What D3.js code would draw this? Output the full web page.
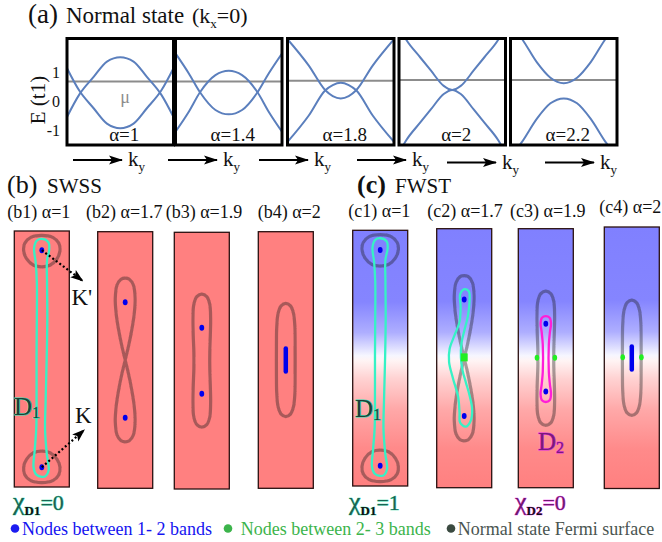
<!DOCTYPE html>
<html>
<head>
<meta charset="utf-8">
<style>
  body { margin: 0; background: #fff; }
  svg text { font-family: "Liberation Serif", "DejaVu Serif", serif; }
</style>
</head>
<body>
<svg width="662" height="542" font-family="Liberation Serif, DejaVu Serif, serif"></svg>
<script src="https://cdnjs.cloudflare.com/ajax/libs/d3/7.8.5/d3.min.js"></script>
<script>
// ---------- data: (a) normal-state bands at kx=0 ----------
var alphaA = [1, 1.4, 1.8, 2, 2.2];
var muA = [0.67, 0.67, 0.70, 0.72, 0.72];
var eTicks = [1, 0, -1];
var bandKy = [
  [-1, -0.77, -0.5, -0.25, 0, 0.25, 0.5, 0.77, 1],
  [-1, -0.75, -0.54, -0.25, 0, 0.25, 0.54, 0.75, 1],
  [-1, -0.6, -0.29, -0.15, 0, 0.15, 0.29, 0.6, 1],
  [-1, -0.87, -0.6, -0.41, -0.16, 0, 0.16, 0.41, 0.6, 0.87, 1],
  [-1, -0.78, -0.5, -0.25, 0, 0.25, 0.5, 0.78, 1]
];
var bandUp = [
  [1.13, 0.36, -0.25, -0.78, -0.94, -0.78, -0.25, 0.36, 1.13],
  [1.64, 0.95, 0.3, -0.31, -0.46, -0.31, 0.3, 0.95, 1.64],
  [2.13, 1.22, 0.37, 0.17, 0.09, 0.17, 0.37, 1.22, 2.13],
  [2.55, 2.13, 1.5, 1.07, 0.52, 0.38, 0.52, 1.07, 1.5, 2.13, 2.55],
  [2.65, 2.13, 1.32, 0.8, 0.61, 0.8, 1.32, 2.13, 2.65]
];
var bandDown = [
  [-0.55, 0.22, 0.83, 1.36, 1.51, 1.36, 0.83, 0.22, -0.55],
  [-1.06, -0.37, 0.3, 0.89, 1.04, 0.89, 0.3, -0.37, -1.06],
  [-1.41, -0.5, 0.37, 0.55, 0.63, 0.55, 0.37, -0.5, -1.41],
  [-1.79, -1.37, -0.74, -0.31, 0.24, 0.38, 0.24, -0.31, -0.74, -1.37, -1.79],
  [-1.95, -1.4, -0.6, -0.08, 0.09, -0.08, -0.6, -1.4, -1.95]
];

// ---------- data: (b)/(c) k-space maps, (kx, ky) ----------
var panelNames = ["(b1) α=1", "(b2) α=1.7", "(b3) α=1.9", "(b4) α=2",
                  "(c1) α=1", "(c2) α=1.7", "(c3) α=1.9", "(c4) α=2"];
var ringTop = [[0,4.51],[0.4,4.44],[0.62,4.22],[0.66,3.95],[0.55,3.65],[0.3,3.42],[0,3.36],
               [-0.3,3.42],[-0.55,3.65],[-0.66,3.95],[-0.62,4.22],[-0.4,4.44]];
var ringBottom = [[0,-4.51],[0.4,-4.44],[0.62,-4.22],[0.66,-3.95],[0.55,-3.65],[0.3,-3.42],[0,-3.36],
                  [-0.3,-3.42],[-0.55,-3.65],[-0.66,-3.95],[-0.62,-4.22],[-0.4,-4.44]];
var figureEight = [[0,0],[0.12,0.5],[0.24,1.1],[0.33,1.7],[0.36,2.25],[0.3,2.72],[0.15,2.94],[0,2.98],
                   [-0.15,2.94],[-0.3,2.72],[-0.36,2.25],[-0.33,1.7],[-0.24,1.1],[-0.12,0.5],
                   [0,0],[0.12,-0.5],[0.24,-1.1],[0.33,-1.7],[0.36,-2.25],[0.3,-2.72],[0.15,-2.94],[0,-2.98],
                   [-0.15,-2.94],[-0.3,-2.72],[-0.36,-2.25],[-0.33,-1.7],[-0.24,-1.1],[-0.12,-0.5]];
var peanut = [[0,2.42],[0.18,2.33],[0.29,2.05],[0.32,1.55],[0.31,0.9],[0.29,0.3],[0.29,-0.3],[0.31,-0.9],
              [0.32,-1.55],[0.29,-2.05],[0.18,-2.33],[0,-2.42],[-0.18,-2.33],[-0.29,-2.05],[-0.32,-1.55],
              [-0.31,-0.9],[-0.29,-0.3],[-0.29,0.3],[-0.31,0.9],[-0.32,1.55],[-0.29,2.05],[-0.18,2.33]];
var oval = [[0,2.06],[0.17,1.97],[0.28,1.7],[0.33,1.2],[0.34,0.5],[0.34,-0.5],[0.33,-1.2],[0.28,-1.7],
            [0.17,-1.97],[0,-2.06],[-0.17,-1.97],[-0.28,-1.7],[-0.33,-1.2],[-0.34,-0.5],[-0.34,0.5],
            [-0.33,1.2],[-0.28,1.7],[-0.17,1.97]];
var fermiByPanel = [[ringTop, ringBottom], [figureEight], [peanut], [oval],
                    [ringTop, ringBottom], [figureEight], [peanut], [oval]];

var loopD1 = [[0,4.38],[0.24,4.26],[0.27,4.0],[0.19,3.6],[0.19,2.8],[0.2,1.5],[0.18,0.1],[0.14,-1.5],
              [0.12,-2.6],[0.18,-3.45],[0.25,-4.05],[0.14,-4.27],[0,-4.3],[-0.2,-4.22],[-0.3,-3.95],
              [-0.26,-3.35],[-0.2,-2.5],[-0.19,-1.2],[-0.19,0.1],[-0.18,1.5],[-0.18,2.8],[-0.22,3.5],
              [-0.28,4.05],[-0.18,4.32]];
var loopS = [[0.01,2.49],[0.17,2.41],[0.19,1.99],[0.13,1.5],[0.01,1.02],[-0.1,0.53],[-0.12,0.04],
             [-0.06,-0.44],[0.06,-0.87],[0.2,-1.36],[0.29,-1.84],[0.23,-2.27],[0.05,-2.47],[-0.15,-2.32],
             [-0.17,-1.96],[-0.22,-1.4],[-0.41,-0.72],[-0.55,-0.14],[-0.53,0.34],[-0.35,0.83],
             [-0.17,1.31],[-0.13,1.87],[-0.15,2.29]];
var loopD2 = [[0,1.52],[0.14,1.46],[0.19,1.25],[0.15,0.95],[0.11,0.5],[0.11,-0.5],[0.15,-0.95],[0.19,-1.3],
              [0.14,-1.52],[0,-1.58],[-0.14,-1.52],[-0.19,-1.3],[-0.15,-0.95],[-0.11,-0.5],[-0.11,0.5],
              [-0.15,0.95],[-0.19,1.25],[-0.14,1.46]];
var cyanLoops = [[0, loopD1], [4, loopD1], [5, loopS]];
var magentaLoops = [[6, loopD2]];

// [panel, kx, ky]
var nodes12 = [[0,0,3.97],[0,0,-3.95],[1,0,2.1],[1,0,-2.1],[2,0,1.2],[2,0,-1.2],
               [4,0,3.95],[4,0,-3.93],[5,0,2.12],[5,0,-2.08],[6,0,1.24],[6,0,-1.2]];
// [panel, kx, ky from, ky to]
var nodeLines12 = [[3,0,0.42,-0.42],[7,0,0.4,-0.42]];
var nodes23 = [[6,-0.32,0.02],[6,0.33,0.02],[7,-0.33,0.02],[7,0.35,0.02]];
var nodes23Square = [[5,0,0.03]];
// K', K markers: [panel, from kx, from ky, to kx, to ky]
var valleyArrows = [[0,0,3.97,1.46,2.87],[0,0,-3.95,1.52,-2.61]];

// ---------- layout ----------
var svg = d3.select("svg");
var defs = svg.append("defs");
var boxX = [67, 175.5, 287.5, 399, 510.5], boxW = 106.5, boxTop = 38.5, boxBot = 145;
var yE = d3.scaleLinear().domain([-1, 1]).range([130, 72]);
var arrowX = [73, 168, 259, 357, 447, 545], arrowY = [160, 160, 160, 160, 162.5, 162.5];
var panelX = [14.3, 97.7, 174.3, 258.3, 352.7, 436.7, 518.3, 604.3];
var panelY = [231, 231.7, 232.3, 231.7, 230.3, 228.7, 228.7, 227];
var panelH = [256, 256.6, 256.7, 256.6, 255.7, 259, 259, 261.5];
var panelW = 55, kyMax = 4.67;
var labelPos = [[7.3,218],[86,218],[165.7,218],[257.7,218],[348.3,216.7],[427.3,216.7],[510,217],[599.3,212.7]];

defs.append("filter").attr("id", "soft").attr("x", "-20%").attr("y", "-20%").attr("width", "140%").attr("height", "140%")
  .append("feGaussianBlur").attr("stdDeviation", 0.7);

var grad = defs.append("linearGradient").attr("id", "fwst").attr("x1", 0).attr("y1", 0).attr("x2", 0).attr("y2", 1);
[[0, "#8080ff"], [0.28, "#8585ff"], [0.4, "#aeaeff"], [0.49, "#f6f6ff"], [0.51, "#fff4f4"],
 [0.58, "#ffd2d2"], [0.7, "#ffa8a8"], [0.85, "#ff8a8a"], [1, "#ff8080"]].forEach(function(s) {
  grad.append("stop").attr("offset", s[0]).attr("stop-color", s[1]);
});

defs.append("marker").attr("id", "headBig").attr("viewBox", "0 -5 14 10")
  .attr("refX", 13).attr("refY", 0).attr("markerWidth", 14).attr("markerHeight", 10)
  .attr("markerUnits", "userSpaceOnUse").attr("orient", "auto")
  .append("path").attr("d", "M0,-4.5L14,0L0,4.5L3,0Z").attr("fill", "#000");
defs.append("marker").attr("id", "headDot").attr("viewBox", "0 -5 14 10")
  .attr("refX", 12).attr("refY", 0).attr("markerWidth", 13).attr("markerHeight", 10)
  .attr("markerUnits", "userSpaceOnUse").attr("orient", "auto")
  .append("path").attr("d", "M0,-5L14,0L0,5L3,0Z").attr("fill", "#000");

// ---------- (a) ----------
var ta = svg.append("text").attr("x", 28).attr("y", 23).attr("fill", "#111");
ta.append("tspan").attr("font-size", 27).text("(a)");
ta.append("tspan").attr("x", 66).attr("font-size", 23).text("Normal state");
ta.append("tspan").attr("x", 192).attr("font-size", 22).text("(k");
ta.append("tspan").attr("font-size", 13).attr("dy", 5).text("x");
ta.append("tspan").attr("font-size", 22).attr("dy", -5).text("=0)");

svg.append("text").attr("transform", "translate(45,100) rotate(-90)")
  .attr("text-anchor", "middle").attr("font-size", 21).attr("fill", "#111").text("E (t1)");
svg.selectAll("text.etick").data(eTicks).join("text").attr("class", "etick")
  .attr("x", 60).attr("y", function(d) { return yE(d); }).attr("dy", "0.35em")
  .attr("text-anchor", "end").attr("font-size", 16).attr("fill", "#111").text(function(d) { return d; });

alphaA.forEach(function(a, i) {
  var x = d3.scaleLinear().domain([-1, 1]).range([boxX[i], boxX[i] + boxW]);
  defs.append("clipPath").attr("id", "clipA" + i).append("rect")
    .attr("x", boxX[i]).attr("y", boxTop).attr("width", boxW).attr("height", boxBot - boxTop);
  var g = svg.append("g").attr("clip-path", "url(#clipA" + i + ")");
  g.append("line").attr("x1", x(-1)).attr("x2", x(1)).attr("y1", yE(muA[i])).attr("y2", yE(muA[i]))
    .attr("stroke", "#8c8c8c").attr("stroke-width", 2);
  var line = d3.line().curve(d3.curveMonotoneX)
    .x(function(d) { return x(d[0]); }).y(function(d) { return yE(d[1]); });
  [bandUp[i], bandDown[i]].forEach(function(b) {
    g.append("path").attr("d", line(bandKy[i].map(function(k, j) { return [k, b[j]]; })))
      .attr("fill", "none").attr("stroke", "#5b7fbd").attr("stroke-width", 2);
  });
  svg.append("rect").attr("x", boxX[i]).attr("y", boxTop).attr("width", boxW).attr("height", boxBot - boxTop)
    .attr("fill", "none").attr("stroke", "#000").attr("stroke-width", 3);
  svg.append("text").attr("x", x(0) + 4).attr("y", 141).attr("text-anchor", "middle")
    .attr("font-size", 19).attr("fill", "#111").text("α=" + a);
});
svg.append("text").attr("x", 125).attr("y", 103).attr("text-anchor", "middle")
  .attr("font-size", 18).attr("fill", "#8c8c8c").text("μ");

arrowX.forEach(function(ax, i) {
  svg.append("line").attr("x1", ax).attr("x2", ax + 49).attr("y1", arrowY[i]).attr("y2", arrowY[i])
    .attr("stroke", "#000").attr("stroke-width", 2).attr("marker-end", "url(#headBig)");
  var t = svg.append("text").attr("x", ax + 55).attr("y", arrowY[i] + 6).attr("fill", "#111");
  t.append("tspan").attr("font-size", 21).text("k");
  t.append("tspan").attr("font-size", 13).attr("dy", 5).text("y");
});

// ---------- (b) and (c) ----------
var tb = svg.append("text").attr("x", 7).attr("y", 193).attr("fill", "#111");
tb.append("tspan").attr("font-size", 26).text("(b)");
tb.append("tspan").attr("x", 47).attr("font-size", 21).text("SWSS");
var tc = svg.append("text").attr("x", 357).attr("y", 193).attr("fill", "#111");
tc.append("tspan").attr("font-size", 26).attr("font-weight", "bold").text("(c)");
tc.append("tspan").attr("x", 395).attr("font-size", 21).text("FWST");

var sxs = [], sys = [];
panelNames.forEach(function(name, i) {
  var sx = d3.scaleLinear().domain([-1, 1]).range([panelX[i], panelX[i] + panelW]);
  var sy = d3.scaleLinear().domain([-kyMax, kyMax]).range([panelY[i] + panelH[i], panelY[i]]);
  sxs.push(sx); sys.push(sy);
  svg.append("text").attr("x", labelPos[i][0]).attr("y", labelPos[i][1])
    .attr("font-size", 18).attr("fill", "#111").text(name);
  svg.append("rect").attr("x", panelX[i]).attr("y", panelY[i]).attr("width", panelW).attr("height", panelH[i])
    .attr("fill", i < 4 ? "#ff8080" : "url(#fwst)").attr("stroke", "#2a1010").attr("stroke-width", 1.3);
  var line = d3.line().curve(d3.curveCatmullRomClosed)
    .x(function(d) { return sx(d[0]); }).y(function(d) { return sy(d[1]); });
  fermiByPanel[i].forEach(function(c) {
    svg.append("path").attr("d", line(c)).attr("fill", "none")
      .attr("stroke", "#1c1c1c").attr("stroke-opacity", 0.38).attr("stroke-width", 3.2)
      .attr("filter", "url(#soft)");
  });
});

function kLine(i) {
  return d3.line().curve(d3.curveCatmullRomClosed)
    .x(function(d) { return sxs[i](d[0]); }).y(function(d) { return sys[i](d[1]); });
}
cyanLoops.forEach(function(l) {
  svg.append("path").attr("d", kLine(l[0])(l[1])).attr("fill", "none")
    .attr("stroke", "#36f2c6").attr("stroke-width", 2.3);
});
magentaLoops.forEach(function(l) {
  svg.append("path").attr("d", kLine(l[0])(l[1])).attr("fill", "none")
    .attr("stroke", "#ff1ed8").attr("stroke-width", 2.3);
});

svg.selectAll("ellipse.n12").data(nodes12).join("ellipse").attr("class", "n12")
  .attr("cx", function(d) { return sxs[d[0]](d[1]); }).attr("cy", function(d) { return sys[d[0]](d[2]); })
  .attr("rx", 2.4).attr("ry", 3).attr("fill", "#0000ee");
svg.selectAll("line.n12").data(nodeLines12).join("line").attr("class", "n12")
  .attr("x1", function(d) { return sxs[d[0]](d[1]); }).attr("x2", function(d) { return sxs[d[0]](d[1]); })
  .attr("y1", function(d) { return sys[d[0]](d[2]); }).attr("y2", function(d) { return sys[d[0]](d[3]); })
  .attr("stroke", "#0000ee").attr("stroke-width", 4.5).attr("stroke-linecap", "round");
svg.selectAll("ellipse.n23").data(nodes23).join("ellipse").attr("class", "n23")
  .attr("cx", function(d) { return sxs[d[0]](d[1]); }).attr("cy", function(d) { return sys[d[0]](d[2]); })
  .attr("rx", 2.3).attr("ry", 3).attr("fill", "#22ee22");
svg.selectAll("rect.n23").data(nodes23Square).join("rect").attr("class", "n23")
  .attr("x", function(d) { return sxs[d[0]](d[1]) - 3.5; }).attr("y", function(d) { return sys[d[0]](d[2]) - 4; })
  .attr("width", 7).attr("height", 8).attr("fill", "#22ee22");

valleyArrows.forEach(function(a) {
  svg.append("line").attr("x1", sxs[a[0]](a[1])).attr("y1", sys[a[0]](a[2]))
    .attr("x2", sxs[a[0]](a[3])).attr("y2", sys[a[0]](a[4]))
    .attr("stroke", "#000").attr("stroke-width", 2.2).attr("stroke-dasharray", "2,2.4")
    .attr("marker-end", "url(#headDot)");
});
svg.append("text").attr("x", 71.5).attr("y", 305).attr("font-size", 23).attr("fill", "#111").text("K'");
svg.append("text").attr("x", 75).attr("y", 423).attr("font-size", 23).attr("fill", "#111").text("K");

function dLabel(x, y, sub, fill, edge) {
  var t = svg.append("text").attr("x", x).attr("y", y).attr("fill", fill)
    .attr("stroke", edge).attr("stroke-width", 1).attr("paint-order", "stroke");
  t.append("tspan").attr("font-size", 25).text("D");
  t.append("tspan").attr("font-size", 16).attr("dy", 3).text(sub);
}
dLabel(14, 415, "1", "#1d3f37", "#2fe0b4");
dLabel(355, 417, "1", "#1d3f37", "#2fe0b4");
dLabel(538, 450, "2", "#7a1a7a", "#e030e0");

function chiLabel(x, sub, val, fill, edge) {
  var t = svg.append("text").attr("x", x).attr("y", 510).attr("fill", fill)
    .attr("stroke", edge).attr("stroke-width", 0.7).attr("paint-order", "stroke");
  t.append("tspan").attr("font-size", 26).text("χ");
  t.append("tspan").attr("font-size", 13).attr("font-weight", "bold").attr("dy", 5).attr("fill", "#111").text(sub);
  t.append("tspan").attr("font-size", 22).attr("dy", -5).text("=" + val);
}
chiLabel(13, "D1", 0, "#1b6252", "#30d8a8");
chiLabel(349, "D1", 1, "#1b6252", "#30d8a8");
chiLabel(515, "D2", 0, "#6e186e", "#f040f0");

// ---------- legend ----------
var legend = [["Nodes between 1- 2 bands", "#1c1cf0", "#1414f0", 15, 22],
              ["Nodes between 2- 3 bands", "#3cb44b", "#3cb44b", 228, 240.7],
              ["Normal state Fermi surface", "#3a4a40", "#4a5550", 451, 457.7]];
legend.forEach(function(l) {
  svg.append("circle").attr("cx", l[3]).attr("cy", 528.5).attr("r", 4.3).attr("fill", l[1]);
  svg.append("text").attr("x", l[4]).attr("y", 534.5).attr("font-size", 18).attr("fill", l[2]).text(l[0]);
});
</script>
</body>
</html>
